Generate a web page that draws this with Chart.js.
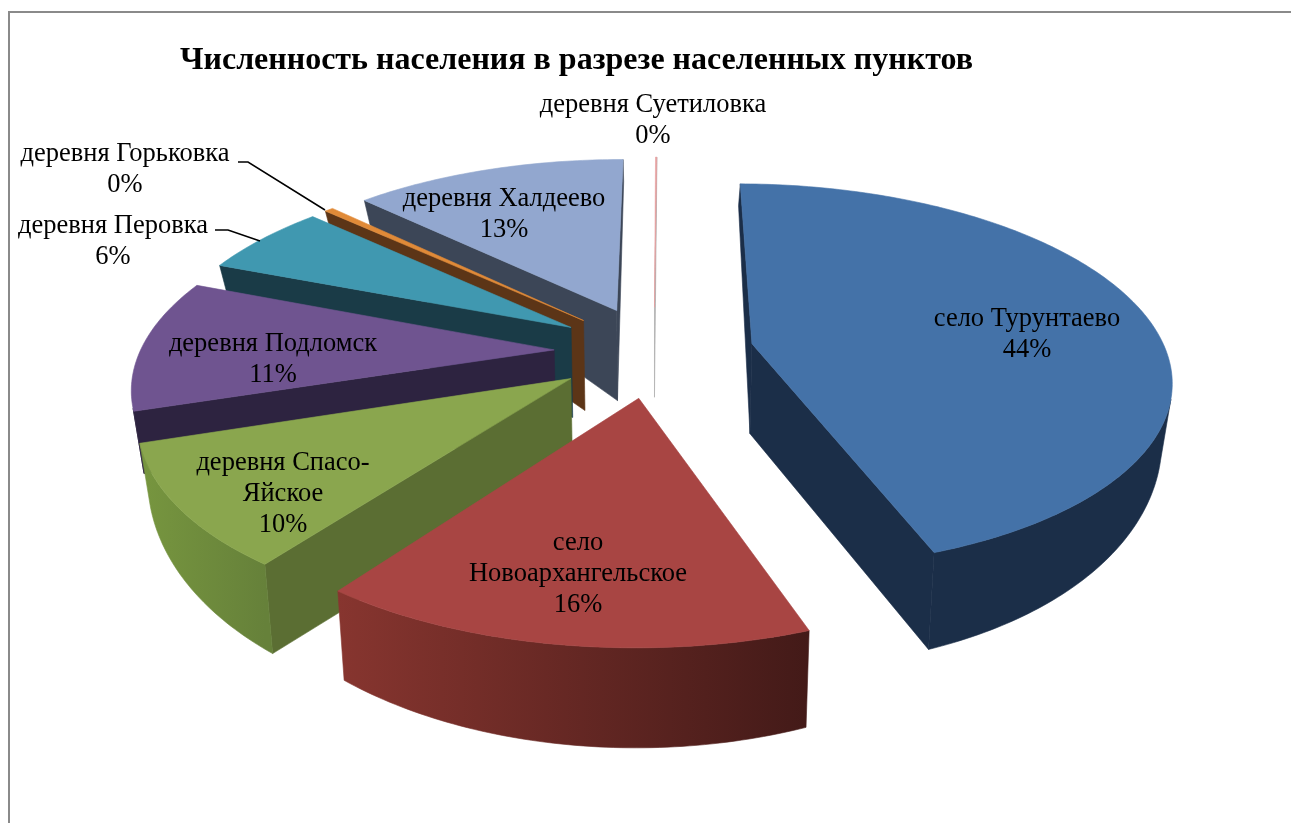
<!DOCTYPE html>
<html lang="ru">
<head>
    <meta charset="UTF-8">
    <title>Численность населения</title>
    <script src="https://cdn.jsdelivr.net/npm/chart.js"></script>
    <style>
        html, body { margin: 0; padding: 0; background: #fff; overflow: hidden; }
        #wrap { position: relative; width: 1291px; height: 823px; }
        #frame { position: absolute; left: 8px; top: 11px; width: 1283px; height: 812px;
                 border-left: 2px solid #8a8a8a; border-top: 2px solid #8a8a8a; box-sizing: border-box; }
        canvas { position: absolute; left: 0; top: 0; }
    </style>
</head>
<body>
<div id="wrap">
    <div id="frame"></div>
    <canvas id="pie" width="1291" height="823"></canvas>
</div>
<script>
    const categories = [
        ['село Турунтаево'],
        ['село', 'Новоархангельское'],
        ['деревня Спасо-', 'Яйское'],
        ['деревня Подломск'],
        ['деревня Перовка'],
        ['деревня Горьковка'],
        ['деревня Халдеево'],
        ['деревня Суетиловка']
    ];
    const shares = [44.45, 15.55, 9.9, 10.9, 6.0, 0.4, 12.74, 0.06];

    const topColors  = ['#4472a8', '#a84543', '#8aa64e', '#6f5490', '#4098b0', '#e08a38', '#92a7cf', '#e8a0a0'];
    const wallColors = ['#1b2e48', '#5c2321', '#5b6e33', '#2d2340', '#1a3b47', '#5c3517', '#3c4657', '#a8a8a8'];
    const rimLeft    = ['#1b2e48', '#87352f', '#77963f', '#2d2340', '#1a3b47', '#5c3517', '#3c4657', '#a8a8a8'];
    const rimRight   = ['#1b2e48', '#431a18', '#66813a', '#2d2340', '#1a3b47', '#5c3517', '#3c4657', '#a8a8a8'];

    // label block centres, first line y
    const labelSpots = [[1027, 319], [578, 543], [283, 463], [273, 344], [113, 226], [125, 154], [504, 199], [653, 105]];
    const leaders = [
        [[238, 162], [248, 162], [325, 210]],
        [[215, 230], [228, 230], [260, 241]]
    ];

    // fake camera of the old office 3D pie
    const squash = 0.457, persp = 0.000409, tipDepth = 90;

    function project(c, u, v) {
        const f = 1 / (1 - persp * v);
        return [c.x + u * f, c.y + squash * v * f];
    }
    function rimDepth(th) {
        const t = (1 - Math.cos(th)) / 2;
        return 22 + 78 * t * t * (1.6 - 0.6 * t);
    }
    function lower(c, p, depth) {
        return [p[0] - (p[0] - c.x) * 0.02, p[1] + depth];
    }
    function facing(a, b) {
        const pts = [a.top, b.top, b.low, a.low];
        let area = 0;
        pts.forEach((p, i) => {
            const q = pts[(i + 1) % 4];
            area += p[0] * q[1] - q[0] * p[1];
        });
        return area < 0;
    }
    function fillPath(ctx, pts, color) {
        ctx.fillStyle = color;
        ctx.strokeStyle = color;
        ctx.lineWidth = 0.6;
        ctx.beginPath();
        pts.forEach((p, i) => i ? ctx.lineTo(p[0], p[1]) : ctx.moveTo(p[0], p[1]));
        ctx.closePath();
        ctx.fill();
        ctx.stroke();
    }

    const pie3d = {
        id: 'pie3d',
        beforeDatasetsDraw(chart) {
            const ctx = chart.ctx;
            const arcs = chart.getDatasetMeta(0).data;
            const m = i => (arcs[i].startAngle + arcs[i].endAngle) / 2 + Math.PI / 2;
            const order = arcs.map((arc, i) => i).sort((a, b) => Math.cos(m(b)) - Math.cos(m(a)));
            order.forEach(i => {
                const arc = arcs[i];
                const c = { x: arc.x, y: arc.y };
                const R = arc.outerRadius;
                const a0 = arc.startAngle + Math.PI / 2, a1 = arc.endAngle + Math.PI / 2;
                const off = arc.options.offset;
                const ox = Math.sin(m(i)) * off, oy = -Math.cos(m(i)) * off;

                const tip = project(c, ox, oy);
                const tipEdge = { top: tip, low: lower(c, tip, tipDepth) };
                const steps = Math.max(1, Math.ceil((a1 - a0) / 0.015));
                const rim = [];
                for (let s = 0; s <= steps; s++) {
                    const th = a0 + (a1 - a0) * s / steps;
                    const p = project(c, ox + Math.sin(th) * R, oy - Math.cos(th) * R);
                    rim.push({ top: p, low: lower(c, p, rimDepth(th)) });
                }

                ctx.save();
                [[tipEdge, rim[0]], [rim[rim.length - 1], tipEdge]].forEach(([a, b]) => {
                    if (facing(a, b)) fillPath(ctx, [a.top, b.top, b.low, a.low], wallColors[i]);
                });

                // one polygon for each visible run of the outer rim
                const xs = rim.map(e => e.top[0]);
                const grad = ctx.createLinearGradient(Math.min(...xs), 0, Math.max(...xs), 0);
                grad.addColorStop(0, rimLeft[i]);
                grad.addColorStop(1, rimRight[i]);
                let run = [];
                const flush = () => {
                    if (run.length > 1) {
                        fillPath(ctx, run.map(e => e.top).concat(run.map(e => e.low).reverse()), grad);
                    }
                    run = [];
                };
                for (let s = 0; s < steps; s++) {
                    if (facing(rim[s], rim[s + 1])) {
                        if (!run.length) run.push(rim[s]);
                        run.push(rim[s + 1]);
                    } else {
                        flush();
                    }
                }
                flush();

                fillPath(ctx, [tip].concat(rim.map(e => e.top)), arc.options.backgroundColor);
                ctx.restore();
            });
            return false; // the arcs are painted above
        },
        afterDraw(chart) {
            const ctx = chart.ctx;
            const total = shares.reduce((a, b) => a + b, 0);
            ctx.save();
            ctx.strokeStyle = '#000';
            ctx.lineWidth = 1.5;
            leaders.forEach(line => {
                ctx.beginPath();
                line.forEach((p, i) => i ? ctx.lineTo(p[0], p[1]) : ctx.moveTo(p[0], p[1]));
                ctx.stroke();
            });
            ctx.fillStyle = '#000';
            ctx.font = '26.5px "Liberation Serif"';
            ctx.textAlign = 'center';
            ctx.textBaseline = 'middle';
            categories.forEach((lines, i) => {
                const [x, y] = labelSpots[i];
                const all = lines.concat(Math.round(shares[i] / total * 100) + '%');
                all.forEach((t, k) => ctx.fillText(t, x, y + k * 31));
            });
            ctx.restore();
        }
    };

    new Chart(document.getElementById('pie'), {
        type: 'pie',
        data: {
            labels: categories,
            datasets: [{
                data: shares,
                backgroundColor: topColors,
                borderWidth: 0,
                offset: 100,
                radius: 414,
                rotation: 0.4
            }]
        },
        options: {
            responsive: false,
            animation: false,
            layout: { padding: { left: 180, right: 163, top: 42, bottom: 207 } },
            plugins: {
                legend: { display: false },
                tooltip: { enabled: false },
                title: {
                    display: true,
                    text: 'Численность населения в разрезе населенных пунктов',
                    align: 'start',
                    color: '#000',
                    font: { family: '"Liberation Serif"', size: 32, weight: 'bold' },
                    padding: { top: 0, bottom: 6 }
                }
            }
        },
        plugins: [pie3d]
    });
</script>
</body>
</html>
